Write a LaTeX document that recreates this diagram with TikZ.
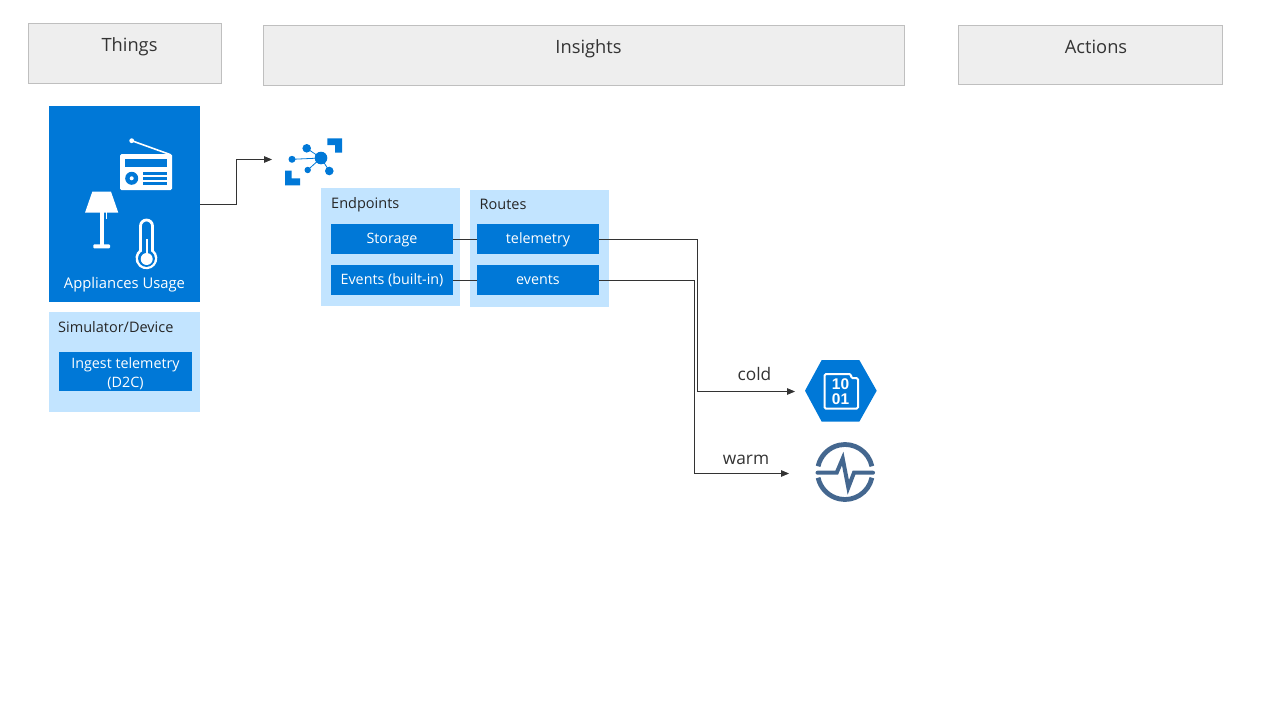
\documentclass[tikz,border=0pt]{standalone}
\usepackage{fontspec}
\setmainfont{Open Sans}
\newfontfamily\mybits{Liberation Sans}
\usepackage{xcolor}
\usetikzlibrary{calc,arrows,positioning}
\definecolor{myblue}{HTML}{0078D7}
\definecolor{mylight}{HTML}{C2E4FF}
\definecolor{myhead}{HTML}{EEEEEE}
\definecolor{myslate}{HTML}{44678F}
\definecolor{mytext}{HTML}{333333}
\newcommand{\myfont}[1]{\fontsize{#1}{#1}\selectfont}

\begin{document}
\begin{tikzpicture}[x=1pt,y=-1pt,
  myheadbox/.style={draw=black!25,fill=myhead,line width=0.8pt,minimum height=60pt,inner sep=0pt,outer sep=0pt},
  myheadtext/.style={text=mytext,inner sep=0pt,font=\myfont{18.3}},
  mypanel/.style={fill=mylight,inner sep=0pt,outer sep=0pt},
  mypaneltext/.style={text=black!85,inner sep=0pt,font=\myfont{14.5}},
  mybox/.style={fill=myblue,text=white,minimum width=122pt,minimum height=29.5pt,inner sep=0pt,outer sep=0pt,align=center,font=\myfont{14.3}},
  myboxs/.style={mybox,text height=11pt,text depth=2pt},
  myline/.style={draw=black!80,line width=0.8pt},
  myarrow/.style={myline,-triangle 45},
  mylabel/.style={text=mytext,inner sep=0pt,font=\myfont{17.3}}
]
\useasboundingbox (0,0) rectangle (1280,720);

% headers
\node[myheadbox,minimum width=193pt] at (124.5,53) (H1) {};
\node[myheadbox,minimum width=641pt] at (583.5,55) (H2) {};
\node[myheadbox,minimum width=264pt,minimum height=59pt] at (1090,54.5) (H3) {};
\node[myheadtext] at (129.5,46.5) (T1) {Things};
\node[myheadtext] at (588.5,49) (T2) {Insights};
\node[myheadtext] at (1096,47) (T3) {Actions};

% things
\node[fill=myblue,minimum width=151pt,minimum height=196pt,inner sep=0pt,outer sep=0pt] at (124.5,204) (U) {};
\node[text=white,inner sep=0pt,font=\myfont{14.8}] at (124.5,284.5) (U1) {Appliances Usage};
\node[mypanel,minimum width=151pt,minimum height=100pt] at (124.5,362) (S) {};
\node[mypaneltext,anchor=west] at (58,327.5) (S1) {Simulator/Device};
\node[mybox,minimum width=133pt,minimum height=39pt] at (125.5,371.5) (S2) {\rule{0pt}{15pt}Ingest telemetry\\[4pt](D2C)};

% radio
\fill[white,rounded corners=1.5pt] (120,154) rectangle (172,190);
\fill[myblue] (125.3,159) rectangle (167,166.7);
\fill[myblue] (131.7,178.3) circle (6.5pt);
\fill[white] (131.7,178.3) circle (2pt);
\foreach \a/\b in {171.7/175,177/180,182/184.7}{
\fill[myblue] (143.3,\a) rectangle (167,\b);
}
\draw[white,line width=1.6pt] (131.7,140.7) -- (170,154.5);
\fill[white] (131.7,140.7) circle (2.4pt);

% lamp
\fill[white] (92.3,191.7) -- (111,191.7) -- (118.3,212.7) -- (85,212.7) -- cycle;
\fill[white] (100,212) rectangle (104,245);
\fill[white,rounded corners=1pt] (93.3,244.3) rectangle (110,248.3);
\fill[white] (106,212) rectangle (107.2,219);

% thermometer
\draw[white,line width=2.8pt] (140.5,251) -- (140.5,226) arc (180:0:6pt) -- (152.5,251) arc (50:-230:9.5pt) -- cycle;
\fill[myblue] (146.5,258.5) circle (8.4pt);
\fill[white] (145.6,239) rectangle (147.8,257);
\fill[white] (146.7,259) circle (6pt);

% hub icon
\foreach \a/\b/\c in {306.7/148.3/4.3,292/159.3/3.5,307.7/170/3.2,329.3/171/4.3}{
\draw[myblue,line width=0.8pt] (321,158) -- (\a,\b);
\fill[myblue] (\a,\b) circle (\c pt);
}
\fill[myblue] (321,158) circle (6.3pt);
\fill[myblue] (327.3,138.3) -- (342,138.3) -- (342,152.7) -- (335,152.7) -- (335,145) -- (327.3,145) -- cycle;
\fill[myblue] (285,170.7) -- (291.7,170.7) -- (291.7,178.3) -- (300,178.3) -- (300,185.3) -- (285,185.3) -- cycle;
\coordinate (Hub) at (272,159.5);

% endpoints and routes
\node[mypanel,minimum width=139pt,minimum height=118pt] at (390.5,247) (E) {};
\node[mypanel,minimum width=139pt,minimum height=117pt] at (539.5,248.5) (R) {};
\node[mypaneltext,anchor=west] at (331,205) (E0) {Endpoints};
\node[mypaneltext,anchor=west] at (479.5,204) (R0) {Routes};
\node[myboxs] at (392,239) (E1) {Storage};
\node[myboxs, below = 11.5pt of E1] (E2) {Events (built-in)};
\node[myboxs, right = 24pt of E1] (R1) {telemetry};
\node[myboxs, below = 11.5pt of R1] (R2) {events};

% stores
\fill[myblue] (805,390.7) -- (821.7,360) -- (859.3,360) -- (876.7,390.7) -- (859.3,421.7) -- (821.7,421.7) -- cycle;
\draw[white,line width=2pt,rounded corners=1.5pt] (824.5,374) -- (851,374) -- (851,378) -- (858,378) -- (858,408.7) -- (824.5,408.7) -- cycle;
\node[text=white,inner sep=0pt,align=center,font=\myfont{15.5}\mybits\bfseries] at (840.5,391.5) (F) {10\\[-0.5pt]01};
\draw[myslate,line width=4.8pt] ($(845,472)+(12:27.5pt)$) arc (12:168:27.5pt);
\draw[myslate,line width=4.8pt] ($(845,472)+(-12:27.5pt)$) arc (-12:-168:27.5pt);
\draw[myslate,line width=4pt,line cap=round] (817.5,472.7) -- (836.7,472.7) -- (842.7,458.5) -- (848.3,487.5) -- (854,472.7) -- (873,472.7);
\coordinate (Cold) at (795,391.5);
\coordinate (Warm) at (789,473.5);

% connectors
\path[myarrow] (U.east) -- (236.5,204) -- (236.5,159.5) -- (Hub);
\path[myline]
(E1) edge (R1)
(E2) edge (R2);
\path[myarrow] (R1.east) -- (697,239) -- (697,391.5) -- (Cold);
\path[myarrow] (R2.east) -- (694.5,280) -- (694.5,473.5) -- (Warm);
\node[mylabel] at (754.5,374.5) (L1) {cold};
\node[mylabel] at (746,460) (L2) {warm};
\end{tikzpicture}
\end{document}
